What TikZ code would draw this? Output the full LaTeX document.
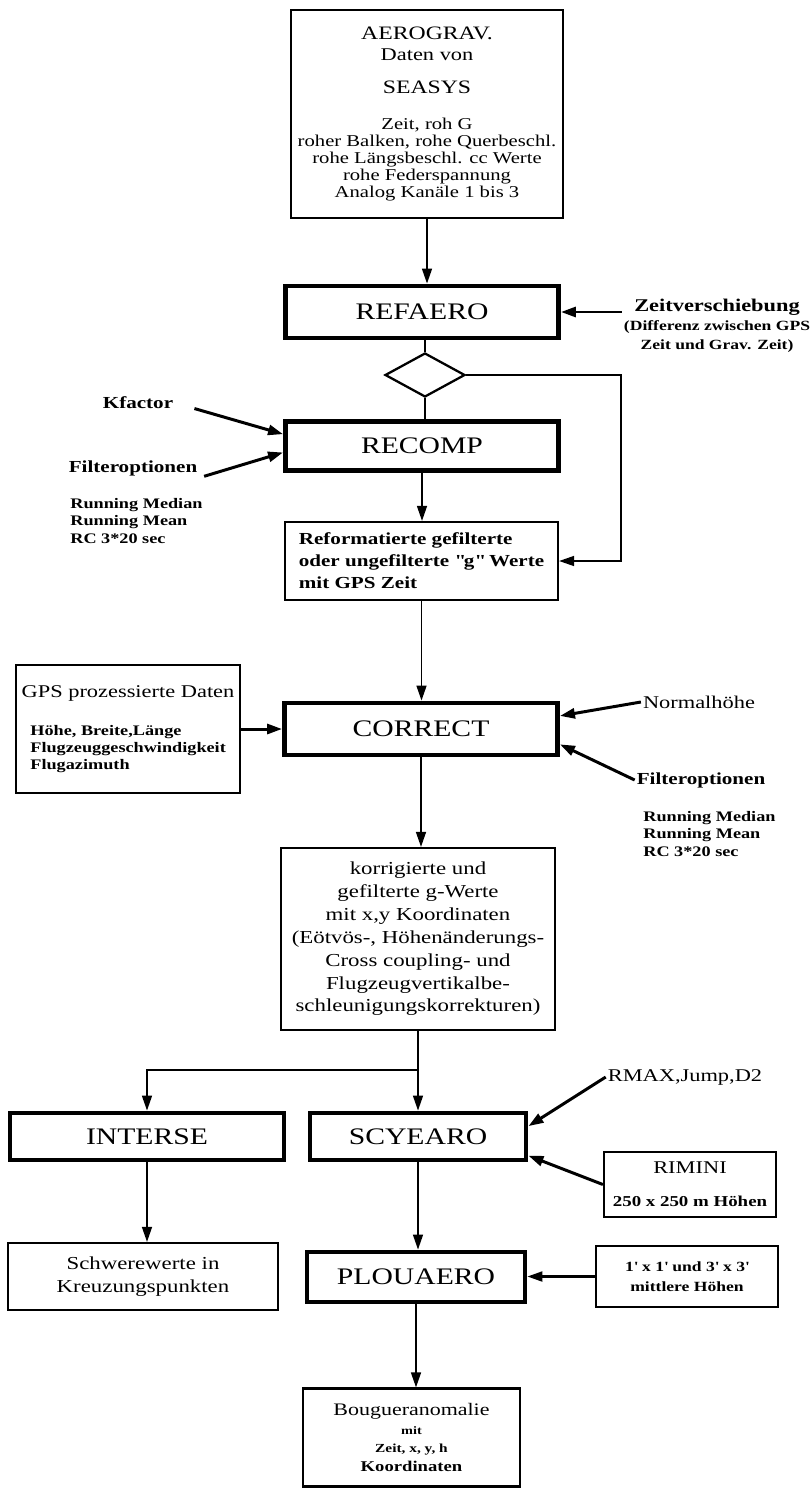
\documentclass[tikz,border=0pt]{standalone}
\usepackage{fontspec}
\setmainfont{Liberation Serif}[FakeStretch=1.25]
\usetikzlibrary{arrows.meta,calc,shapes.geometric}

\newcommand{\headfont}{\fontsize{10.2}{11}\selectfont}

\begin{document}
\begin{tikzpicture}[x=0.02cm,y=-0.02cm,>={Triangle[length=3mm,width=2mm]},
    box/.style={draw,line width=1.3pt,align=center,inner sep=1pt},
    prog/.style={draw,line width=2.8pt,font=\fontsize{13.5}{15}\selectfont},
    note/.style={font=\bfseries\fontsize{9.6}{11}\selectfont,inner sep=1pt},
    opts/.style={align=left,font=\bfseries\fontsize{8.3}{9.9}\selectfont,inner sep=0pt},
    flow/.style={->,line width=0.9pt},
    feed/.style={->,line width=1.7pt}]
  \useasboundingbox (0,0) rectangle (811,1490);

  \node[box,minimum width=5.44cm,minimum height=4.16cm,font=\fontsize{9.4}{9.6}\selectfont] (aero) at (427,114)
    {{\fontsize{10.8}{11}\selectfont AEROGRAV.}\\[2.3pt]{\headfont Daten von}\\[9pt]{\fontsize{10.8}{11}\selectfont SEASYS}\\[11.2pt]
     Zeit, roh G\\roher Balken, rohe Querbeschl.\\rohe Längsbeschl. cc Werte\\rohe Federspannung\\Analog Kanäle 1 bis 3};
  \node[prog,minimum width=5.46cm,minimum height=1.04cm] (refaero) at (422,312) {REFAERO};
  \node[align=center,inner sep=1pt,font=\bfseries\fontsize{8}{10.8}\selectfont] (zeit) at (717,326)
    {{\headfont Zeitverschiebung}\\(Differenz zwischen GPS\\Zeit und Grav. Zeit)};
  \node[draw,diamond,line width=1.3pt,minimum width=1.6cm,minimum height=0.88cm,aspect=1.8,inner sep=0pt] (dia) at (425,375) {};
  \node[prog,minimum width=5.46cm,minimum height=0.98cm] (recomp) at (422,446) {RECOMP};
  \node[note] (kfactor) at (138,403) {Kfactor};
  \node[note] (filta) at (133,468) {Filteroptionen};
  \node[opts,anchor=west] (runa) at (70,521) {Running Median\\Running Mean\\RC 3*20 sec};
  \node[box,align=left,minimum width=5.46cm,minimum height=1.56cm,font=\bfseries\fontsize{9.6}{12.5}\selectfont] (reform) at (421.5,561)
    {Reformatierte gefilterte\\oder ungefilterte \textquotedbl g\textquotedbl{} Werte\\mit GPS Zeit};

  \node[box,align=left,minimum width=4.48cm,minimum height=2.56cm,font=\bfseries\fontsize{8.3}{9.6}\selectfont] (gps) at (128,729)
    {{\mdseries\headfont GPS prozessierte Daten}\\[12pt]\hspace*{5pt}Höhe, Breite,Länge\\\hspace*{5pt}Flugzeuggeschwindigkeit\\\hspace*{5pt}Flugazimuth};
  \node[prog,minimum width=5.46cm,minimum height=1.04cm] (correct) at (421,729) {CORRECT};
  \node[inner sep=1pt,font=\headfont] (normal) at (699,702) {Normalhöhe};
  \node[note] (filtb) at (701,780) {Filteroptionen};
  \node[opts,anchor=west] (runb) at (643,834) {Running Median\\Running Mean\\RC 3*20 sec};
  \node[box,minimum width=5.48cm,minimum height=3.64cm,font=\fontsize{10.4}{13}\selectfont] (korr) at (418,939)
    {korrigierte und\\gefilterte g-Werte\\mit x,y Koordinaten\\(Eötvös-, Höhenänderungs-\\Cross coupling- und\\Flugzeugvertikalbe-\\schleunigungskorrekturen)};

  \node[prog,minimum width=5.48cm,minimum height=0.94cm] (interse) at (147,1136.5) {INTERSE};
  \node[prog,minimum width=4.32cm,minimum height=0.94cm] (scyearo) at (418,1136.5) {SCYEARO};
  \node[inner sep=1pt,font=\headfont] (rmax) at (685,1077) {RMAX,Jump,D2};
  \node[box,minimum width=3.44cm,minimum height=1.3cm,font=\headfont] (rimini) at (690,1184.5)
    {RIMINI\\[8pt]{\bfseries\fontsize{8.6}{10}\selectfont 250 x 250 m Höhen}};
  \node[box,minimum width=5.4cm,minimum height=1.34cm,font=\fontsize{10.4}{13}\selectfont] (schwere) at (143,1276.5)
    {Schwerewerte in\\Kreuzungspunkten};
  \node[prog,minimum width=4.36cm,minimum height=1cm] (plouaero) at (416,1277) {PLOUAERO};
  \node[box,minimum width=3.64cm,minimum height=1.22cm,font=\bfseries\fontsize{8}{11.3}\selectfont] (mittl) at (687,1276.5)
    {1\textquotesingle{} x 1\textquotesingle{} und 3\textquotesingle{} x 3\textquotesingle\\mittlere Höhen};
  \node[box,minimum width=4.34cm,minimum height=1.96cm,font=\bfseries\fontsize{8.5}{10.5}\selectfont] (bouguer) at (411.5,1437.5)
    {{\mdseries\fontsize{10}{11}\selectfont Bougueranomalie}\\{\fontsize{6.5}{8}\selectfont mit}\\{\fontsize{7}{9}\selectfont Zeit, x, y, h}\\Koordinaten};

  \coordinate (loop) at (621,0);
  \coordinate (split) at (0,1070);

  \draw[flow] (aero.south) -- (aero.south |- refaero.north);
  \draw[feed] (zeit.west |- refaero.east) -- (refaero.east);
  \draw[line width=0.9pt] (dia.north |- refaero.south) -- (dia.north);
  \draw[line width=0.9pt] (dia.south) -- (dia.south |- recomp.north);
  \draw[flow] (dia.east) -- (dia.east -| loop) -- (loop |- reform.east) -- (reform.east);
  \draw[feed,shorten <=0.4cm] (kfactor.east) -- ($(recomp.north west)!0.28!(recomp.south west)$);
  \draw[feed,shorten <=0.1cm] (filta.south east) -- ($(recomp.north west)!0.62!(recomp.south west)$);
  \draw[flow] (recomp.south) -- (recomp.south |- reform.north);
  \draw[flow] (reform.south) -- (reform.south |- correct.north);
  \draw[feed] (gps.east) -- (gps.east -| correct.west);
  \draw[feed] (normal.west) -- ($(correct.north east)!0.27!(correct.south east)$);
  \draw[feed] (filtb.west) -- ($(correct.north east)!0.77!(correct.south east)$);
  \draw[flow] (correct.south) -- (correct.south |- korr.north);
  \draw[flow] (korr.south) -- (korr.south |- scyearo.north);
  \draw[flow] (korr.south |- split) -| (interse.north);
  \draw[feed] (rmax.west) -- ($(scyearo.north east)!0.3!(scyearo.south east)$);
  \draw[feed] (rimini.west) -- ($(scyearo.north east)!0.87!(scyearo.south east)$);
  \draw[flow] (interse.south) -- (interse.south |- schwere.north);
  \draw[flow] (scyearo.south) -- (scyearo.south |- plouaero.north);
  \draw[feed,line width=1.2pt] (mittl.west) -- (mittl.west -| plouaero.east);
  \draw[flow] (plouaero.south) -- (plouaero.south |- bouguer.north);
\end{tikzpicture}
\end{document}
